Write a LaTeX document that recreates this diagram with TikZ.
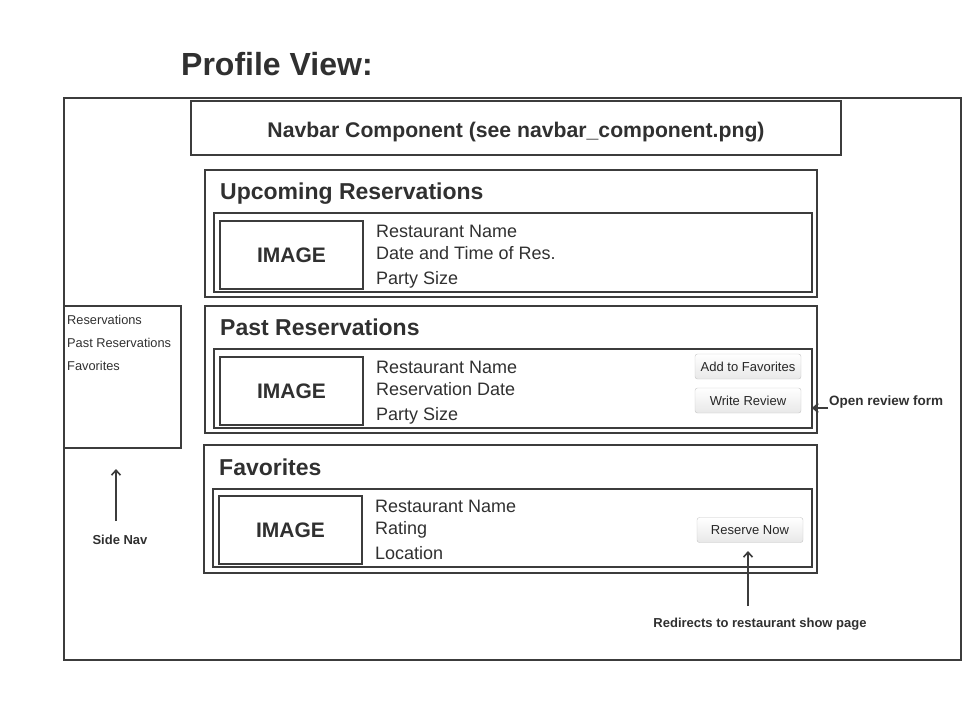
\documentclass[tikz,border=0pt]{standalone}
\usepackage{fontspec}
\setmainfont{Liberation Sans}
\usetikzlibrary{arrows.meta}
\definecolor{ln}{HTML}{3C3C3C}
\definecolor{tx}{HTML}{303030}
\definecolor{btnb}{HTML}{C4C4C4}
\tikzset{
  box/.style={draw=ln, line width=2pt, anchor=north west, inner sep=0pt, outer sep=0pt},
  txt/.style={text=tx, anchor=base west, inner sep=0pt},
  head/.style={txt, font=\bfseries\fontsize{23}{26}\selectfont},
  line/.style={txt, font=\fontsize{18}{20}\selectfont},
  imgtxt/.style={text=tx, font=\bfseries\fontsize{21}{24}\selectfont},
  small/.style={txt, font=\fontsize{12.8}{15}\selectfont},
  note/.style={text=tx, inner sep=0pt, anchor=base, font=\bfseries\fontsize{13}{15}\selectfont},
  btn/.style={draw=btnb, rounded corners=2.5pt, top color=white, bottom color=black!9,
    minimum width=106pt, minimum height=25pt, inner sep=0pt, text=black!85,
    font=\fontsize{13}{15}\selectfont},
  arr/.style={draw=ln, line width=2pt, -{Straight Barb[length=5pt,width=9pt,line width=1.6pt]}}
}
\begin{document}
\begin{tikzpicture}[x=1pt,y=-1pt]
\useasboundingbox (0,0) rectangle (963,715);
% title
\node[txt, font=\bfseries\fontsize{32}{36}\selectfont] (title) at (181,75) {Profile View:};
% outer frame
\node[box, minimum width=897pt, minimum height=562pt] (outer) at (64,98) {};
% navbar
\node[box, minimum width=650pt, minimum height=54pt] (navbar) at (191,101) {};
\node[text=tx, anchor=base, inner sep=0pt, font=\bfseries\fontsize{21.2}{24}\selectfont] (navtxt) at (516,137) {Navbar Component (see navbar\_component.png)};
% side nav
\node[box, minimum width=117pt, minimum height=142pt] (side) at (64,306) {};
\node[small] (s1) at (67,324) {Reservations};
\node[small] (s2) at (67,347) {Past Reservations};
\node[small] (s3) at (67,370) {Favorites};
\node[note] (sidelbl) at (120,544) {Side Nav};
\coordinate (sidestart) at (116,521);
\coordinate (sideend) at (116,469);
\draw[arr] (sidestart) -- (sideend);
% upcoming
\node[box, minimum width=612pt, minimum height=127pt] (up) at (205,170) {};
\node[head] (uph) at (220,199) {Upcoming Reservations};
\node[box, minimum width=598pt, minimum height=79pt] (upin) at (214,213) {};
\node[box, minimum width=143pt, minimum height=68pt] (upimg) at (220,221) {};
\node[imgtxt] at (upimg.center) {IMAGE};
\node[line] (u1) at (376,237) {Restaurant Name};
\node[line] (u2) at (376,259) {Date and Time of Res.};
\node[line] (u3) at (376,284) {Party Size};
% past
\node[box, minimum width=612pt, minimum height=127pt] (past) at (205,306) {};
\node[head] (pasth) at (220,335) {Past Reservations};
\node[box, minimum width=598pt, minimum height=79pt] (pastin) at (214,349) {};
\node[box, minimum width=143pt, minimum height=68pt] (pastimg) at (220,357) {};
\node[imgtxt] at (pastimg.center) {IMAGE};
\node[line] (p1) at (376,373) {Restaurant Name};
\node[line] (p2) at (376,395) {Reservation Date};
\node[line] (p3) at (376,420) {Party Size};
\node[btn] (addfav) at (748,366.5) {Add to Favorites};
\node[btn] (review) at (748,400.5) {Write Review};
\node[txt, font=\bfseries\fontsize{13.5}{15}\selectfont] (revlbl) at (829,405) {Open review form};
\coordinate (revstart) at (828,408);
\draw[arr] (revstart) -- (pastin.east |- revstart);
% favorites
\node[box, minimum width=613pt, minimum height=128pt] (fav) at (204,445) {};
\node[head] (favh) at (219,475) {Favorites};
\node[box, minimum width=599pt, minimum height=78pt] (favin) at (213,489) {};
\node[box, minimum width=143pt, minimum height=68pt] (favimg) at (219,496) {};
\node[imgtxt] at (favimg.center) {IMAGE};
\node[line] (f1) at (375,512) {Restaurant Name};
\node[line] (f2) at (375,534) {Rating};
\node[line] (f3) at (375,559) {Location};
\node[btn] (reserve) at (750,530) {Reserve Now};
\node[note] (redlbl) at (760,627) {Redirects to restaurant show page};
\coordinate (redstart) at (748,606);
\coordinate (redend) at (748,551);
\draw[arr] (redstart) -- (redend);
\end{tikzpicture}
\end{document}
